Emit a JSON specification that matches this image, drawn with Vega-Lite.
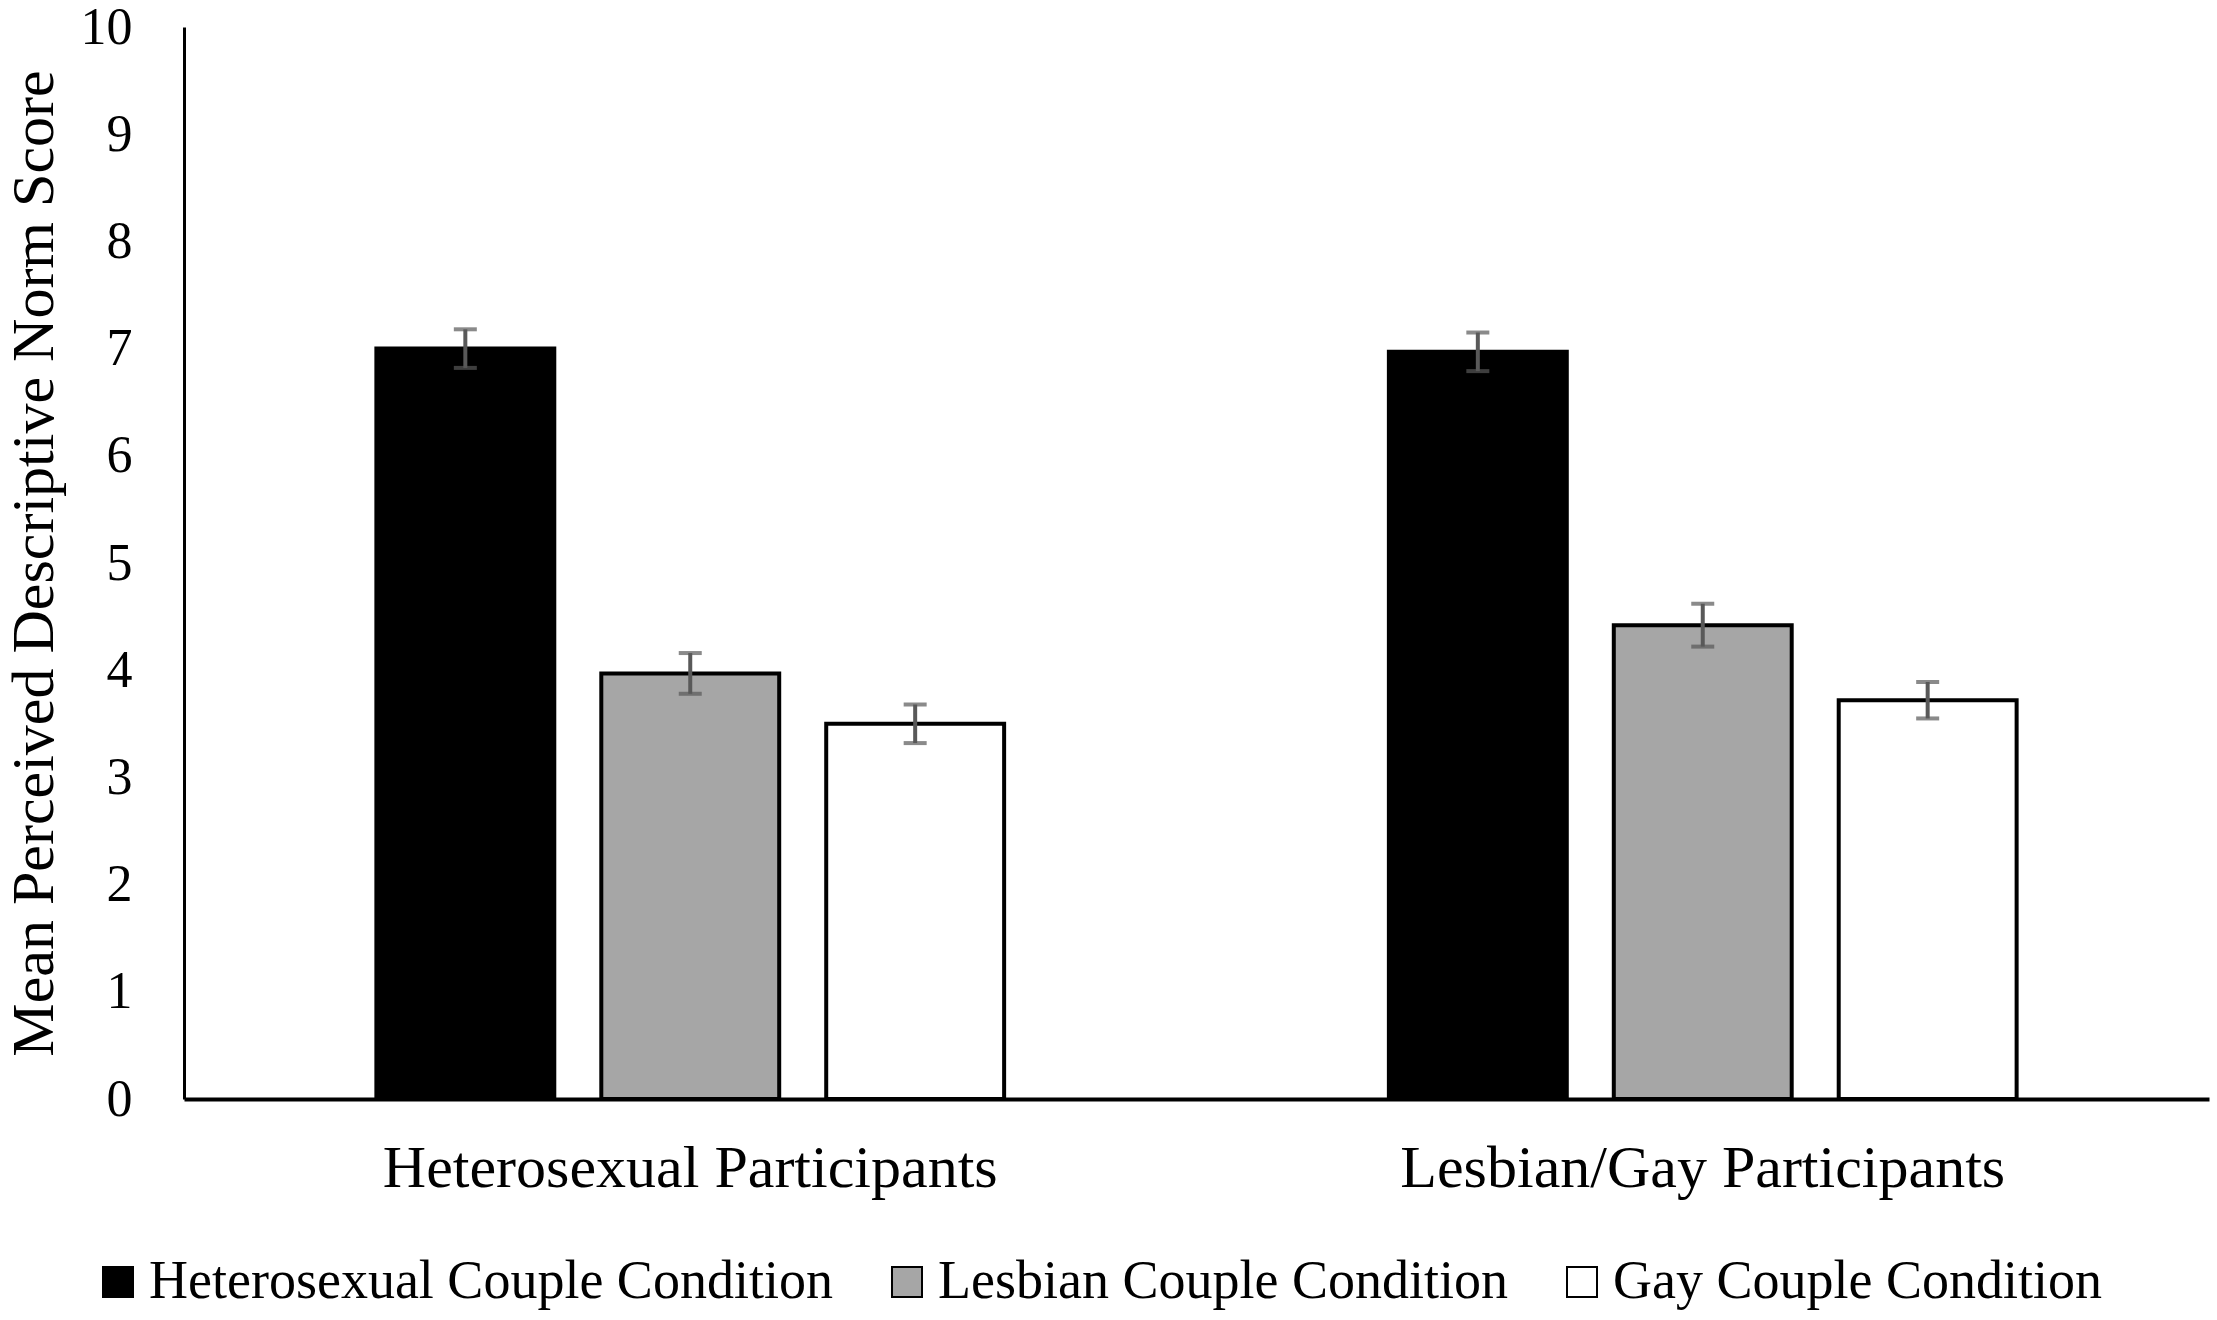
{
  "$schema": "https://vega.github.io/schema/vega-lite/v6.json",
  "width": 2025,
  "height": 1072,
  "autosize": "none",
  "padding": {"left": 184, "top": 27, "right": 8, "bottom": 221},
  "background": "white",
  "data": {
    "values": [
      {"group": "Heterosexual Participants", "condition": "Heterosexual Couple Condition", "mean": 7.0, "lo": 6.82, "hi": 7.18},
      {"group": "Heterosexual Participants", "condition": "Lesbian Couple Condition", "mean": 3.97, "lo": 3.78, "hi": 4.16},
      {"group": "Heterosexual Participants", "condition": "Gay Couple Condition", "mean": 3.5, "lo": 3.32, "hi": 3.68},
      {"group": "Lesbian/Gay Participants", "condition": "Heterosexual Couple Condition", "mean": 6.97, "lo": 6.79, "hi": 7.15},
      {"group": "Lesbian/Gay Participants", "condition": "Lesbian Couple Condition", "mean": 4.42, "lo": 4.22, "hi": 4.62},
      {"group": "Lesbian/Gay Participants", "condition": "Gay Couple Condition", "mean": 3.72, "lo": 3.55, "hi": 3.89}
    ]
  },
  "encoding": {
    "x": {
      "field": "group",
      "type": "nominal",
      "sort": ["Heterosexual Participants", "Lesbian/Gay Participants"],
      "scale": {"paddingInner": 0.38, "paddingOuter": 0.19},
      "axis": {
        "title": null,
        "labelAngle": 0,
        "ticks": false,
        "domainColor": "black",
        "domainWidth": 4,
        "labelFontSize": 60,
        "labelPadding": 40,
        "labelLimit": 1000
      }
    },
    "xOffset": {
      "field": "condition",
      "type": "nominal",
      "sort": ["Heterosexual Couple Condition", "Lesbian Couple Condition", "Gay Couple Condition"],
      "scale": {"paddingInner": 0.209, "paddingOuter": 0}
    }
  },
  "layer": [
    {
      "mark": {"type": "bar", "stroke": "black", "strokeWidth": 4},
      "encoding": {
        "y": {
          "field": "mean",
          "type": "quantitative",
          "scale": {"domain": [0, 10], "nice": false},
          "axis": {
            "title": "Mean Perceived Descriptive Norm Score",
            "titleFontSize": 60,
            "titleFontWeight": "normal",
            "titlePadding": 15,
            "labelFontSize": 52,
            "labelPadding": 52,
            "format": "d",
            "ticks": false,
            "grid": false,
            "domainColor": "black",
            "domainWidth": 3,
            "values": [0, 1, 2, 3, 4, 5, 6, 7, 8, 9, 10]
          }
        },
        "fill": {
          "field": "condition",
          "type": "nominal",
          "scale": {
            "domain": ["Heterosexual Couple Condition", "Lesbian Couple Condition", "Gay Couple Condition"],
            "range": ["#000000", "#a6a6a6", "#ffffff"]
          },
          "legend": {
            "title": null,
            "orient": "none",
            "direction": "horizontal",
            "legendX": -93,
            "legendY": 1228,
            "symbolType": "square",
            "symbolSize": 900,
            "symbolStrokeColor": "black",
            "symbolStrokeWidth": 2,
            "labelFontSize": 54,
            "labelOffset": 4,
            "labelLimit": 1000,
            "columnPadding": 47
          }
        }
      }
    },
    {
      "mark": {"type": "rule", "color": "#595959", "strokeWidth": 4},
      "encoding": {
        "y": {"field": "lo", "type": "quantitative"},
        "y2": {"field": "hi"}
      }
    },
    {
      "mark": {"type": "tick", "color": "#595959", "thickness": 4, "size": 23},
      "encoding": {
        "y": {"field": "lo", "type": "quantitative"}
      }
    },
    {
      "mark": {"type": "tick", "color": "#595959", "thickness": 4, "size": 23},
      "encoding": {
        "y": {"field": "hi", "type": "quantitative"}
      }
    }
  ],
  "config": {
    "font": "Liberation Serif",
    "view": {"stroke": null},
    "axis": {
      "labelFont": "Liberation Serif",
      "titleFont": "Liberation Serif",
      "labelColor": "black",
      "titleColor": "black"
    },
    "legend": {
      "labelFont": "Liberation Serif",
      "labelColor": "black"
    }
  }
}
